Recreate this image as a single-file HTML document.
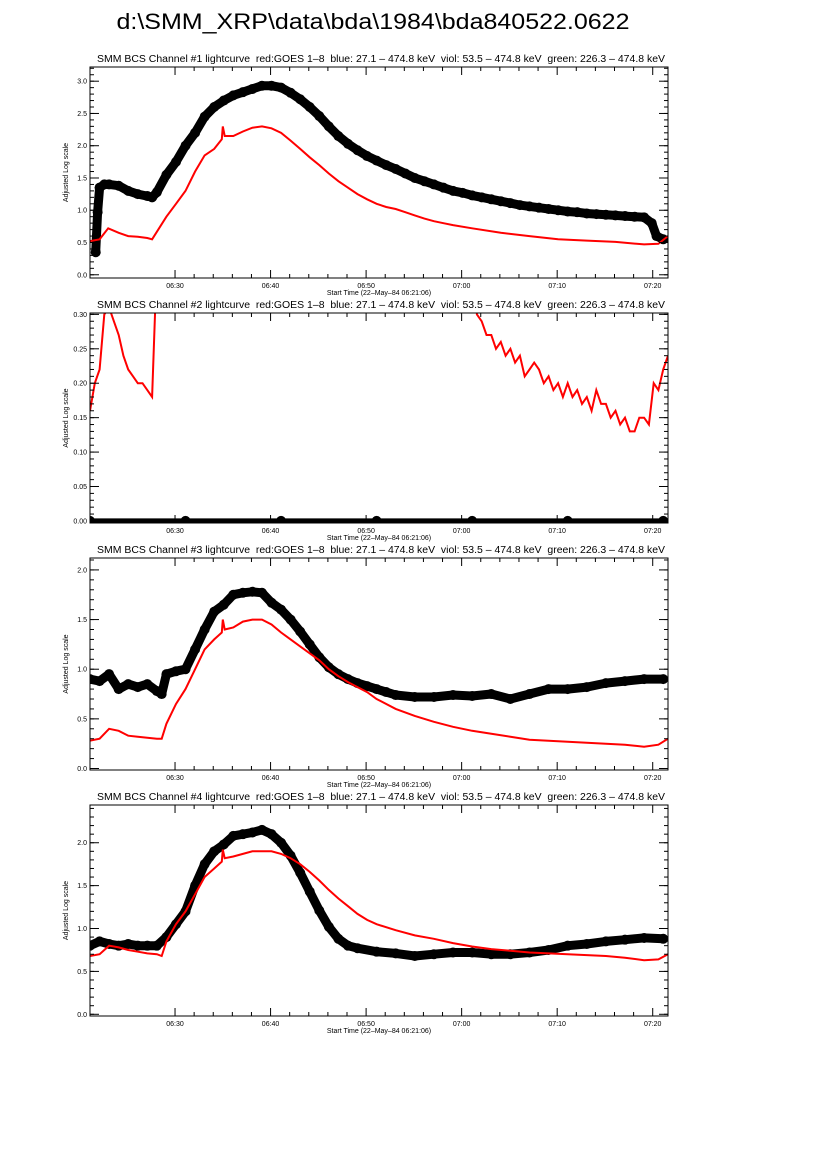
<!DOCTYPE html>
<html><head><meta charset="utf-8"><style>
body{margin:0;background:#fff;width:826px;height:1169px;overflow:hidden}
svg text{font-family:"Liberation Sans",sans-serif}
</style></head><body>
<svg id="chart" width="826" height="1169" xmlns="http://www.w3.org/2000/svg">
<text x="373" y="29" font-size="22" text-anchor="middle" textLength="513" lengthAdjust="spacingAndGlyphs">d:\SMM_XRP\data\bda\1984\bda840522.0622</text>
</svg>
<script>
const tRed1=[0,1,1.9,3,4,5,6,6.5,8,9,10,11,12,13,13.8,13.9,14.1,15,16,17,18,19,20,21,22,23,24,25,26,27,28,29,30,31,32,33,34,35,36,37,38,40,43,46,49,52,55,58,59.5,60.5];
const vRed1=[0.52,0.55,0.72,0.65,0.6,0.59,0.57,0.55,0.9,1.1,1.3,1.6,1.85,1.95,2.1,2.3,2.15,2.15,2.22,2.28,2.3,2.27,2.2,2.08,1.95,1.82,1.7,1.57,1.45,1.35,1.25,1.17,1.1,1.05,1.02,0.97,0.92,0.87,0.83,0.8,0.77,0.72,0.65,0.6,0.55,0.53,0.51,0.47,0.48,0.6];
const tBlk1=[0.6,0.8,1,1.5,2,3,4,5,6,6.5,7,8,9,10,11,12,13,14,15,16,17,18,19,20,21,22,23,24,25,26,27,28,29,30,31,32,33,34,35,36,37,38,39,40,41,42,43,44,45,46,47,48,49,50,51,52,53,54,55,56,57,58,58.8,59.3,60];
const vBlk1=[0.35,0.97,1.35,1.4,1.4,1.38,1.3,1.25,1.22,1.2,1.28,1.55,1.75,2.0,2.2,2.45,2.6,2.7,2.78,2.83,2.88,2.93,2.93,2.9,2.82,2.72,2.6,2.46,2.3,2.15,2.03,1.93,1.84,1.77,1.7,1.64,1.57,1.5,1.45,1.4,1.35,1.3,1.27,1.23,1.2,1.17,1.14,1.11,1.08,1.06,1.04,1.02,1.0,0.98,0.97,0.95,0.94,0.93,0.92,0.91,0.9,0.89,0.8,0.6,0.55];
const tRed2=[0,0.5,1,1.5,2,2.5,3,3.5,4,4.5,5,5.5,6,6.5,6.8,7,40,40.5,41,41.5,42,42.5,43,43.5,44,44.5,45,45.5,46,46.5,47,47.5,48,48.5,49,49.5,50,50.5,51,51.5,52,52.5,53,53.5,54,54.5,55,55.5,56,56.5,57,57.5,58,58.5,59,59.5,60,60.5];
const vRed2=[0.16,0.2,0.22,0.3,0.31,0.29,0.27,0.24,0.22,0.21,0.2,0.2,0.19,0.18,0.3,0.5,0.5,0.3,0.29,0.27,0.27,0.25,0.26,0.24,0.25,0.23,0.24,0.21,0.22,0.23,0.22,0.2,0.21,0.19,0.2,0.18,0.2,0.18,0.19,0.17,0.18,0.16,0.19,0.17,0.17,0.15,0.16,0.14,0.15,0.13,0.13,0.15,0.15,0.14,0.2,0.19,0.22,0.24];
const tBlk2=[0,10,20,30,40,50,60];
const vBlk2=[0,0,0,0,0,0,0];
const tRed3=[0,1,2,3,4,5,6,7,7.5,8,9,10,11,12,13,13.8,13.9,14.1,15,16,17,18,19,20,21,22,23,24,25,26,27,28,29,30,32,34,36,38,40,42,44,46,48,50,52,54,56,58,59.5,60.5];
const vRed3=[0.28,0.3,0.4,0.38,0.33,0.32,0.31,0.3,0.3,0.45,0.65,0.8,1.0,1.2,1.3,1.37,1.5,1.4,1.42,1.48,1.5,1.5,1.45,1.37,1.3,1.23,1.16,1.09,1.0,0.93,0.87,0.82,0.77,0.7,0.6,0.53,0.47,0.42,0.38,0.35,0.32,0.29,0.28,0.27,0.26,0.25,0.24,0.22,0.24,0.3];
const tBlk3=[0,1,2,3,4,5,6,7,7.5,8,9,10,11,12,13,14,15,16,17,18,19,20,21,22,23,24,25,26,27,28,29,30,31,32,34,36,38,40,42,44,46,48,50,52,54,56,58,60];
const vBlk3=[0.9,0.88,0.95,0.8,0.85,0.82,0.85,0.78,0.75,0.95,0.98,1.0,1.2,1.4,1.58,1.65,1.75,1.77,1.78,1.77,1.67,1.6,1.5,1.38,1.25,1.12,1.02,0.95,0.9,0.86,0.83,0.8,0.77,0.74,0.72,0.72,0.74,0.73,0.75,0.7,0.75,0.8,0.8,0.82,0.86,0.88,0.9,0.9];
const tRed4=[0,1,2,3,4,5,6,7,7.5,8,9,10,11,12,13,13.8,13.9,14.1,15,16,17,18,19,20,21,22,23,24,25,26,27,28,29,30,32,34,36,38,40,42,44,46,48,50,52,54,56,58,59.5,60.5];
const vRed4=[0.68,0.7,0.8,0.78,0.75,0.73,0.71,0.7,0.68,0.85,1.05,1.2,1.4,1.6,1.7,1.78,1.92,1.82,1.84,1.87,1.9,1.9,1.9,1.87,1.82,1.75,1.66,1.56,1.45,1.35,1.26,1.17,1.1,1.05,0.98,0.92,0.88,0.83,0.79,0.76,0.74,0.72,0.71,0.7,0.69,0.68,0.66,0.63,0.64,0.7];
const tBlk4=[0,1,2,3,4,5,6,7,8,9,10,11,12,13,14,15,16,17,18,19,20,21,22,23,24,25,26,27,28,30,32,34,36,38,40,42,44,46,48,50,52,54,56,58,60];
const vBlk4=[0.8,0.85,0.82,0.8,0.82,0.8,0.8,0.8,0.9,1.05,1.2,1.5,1.75,1.9,1.98,2.08,2.1,2.12,2.15,2.1,2.0,1.85,1.65,1.43,1.21,1.02,0.88,0.8,0.77,0.73,0.71,0.68,0.7,0.72,0.72,0.7,0.7,0.72,0.75,0.8,0.82,0.85,0.87,0.89,0.88];
const xTickLabels=["06:30","06:40","06:50","07:00","07:10","07:20"];
const yTicks1=[0,0.5,1,1.5,2,2.5,3], yLabels1=["0.0","0.5","1.0","1.5","2.0","2.5","3.0"];
const yTicks2=[0,0.05,0.1,0.15,0.2,0.25,0.3], yLabels2=["0.00","0.05","0.10","0.15","0.20","0.25","0.30"];
const yTicks3=[0,0.5,1,1.5,2], yLabels3=["0.0","0.5","1.0","1.5","2.0"];
const yTicks4=[0,0.5,1,1.5,2], yLabels4=["0.0","0.5","1.0","1.5","2.0"];

const NS="http://www.w3.org/2000/svg";
const svg=document.getElementById('chart');
const X0=90,X1=668,TMAX=60.5;
function xs(t){return X0+(X1-X0)*t/TMAX;}
function mk(tag,attrs,parent){const e=document.createElementNS(NS,tag);for(const k in attrs)e.setAttribute(k,attrs[k]);(parent||svg).appendChild(e);return e;}

const panels=[
 {n:1,top:67,bot:278,ymin:-0.05,ymax:3.22,yt:yTicks1,yl:yLabels1,minor:0.1,tr:tRed1,vr:vRed1,tb:tBlk1,vb:vBlk1},
 {n:2,top:313,bot:523,ymin:-0.003,ymax:0.302,yt:yTicks2,yl:yLabels2,minor:0.01,tr:tRed2,vr:vRed2,tb:tBlk2,vb:vBlk2},
 {n:3,top:558,bot:770,ymin:-0.015,ymax:2.12,yt:yTicks3,yl:yLabels3,minor:0.1,tr:tRed3,vr:vRed3,tb:tBlk3,vb:vBlk3},
 {n:4,top:805,bot:1016,ymin:-0.02,ymax:2.44,yt:yTicks4,yl:yLabels4,minor:0.1,tr:tRed4,vr:vRed4,tb:tBlk4,vb:vBlk4}
];
panels.forEach(p=>{
 const g=mk('g',{});
 
 
 const ys=v=>p.bot-(p.bot-p.top)*(v-p.ymin)/(p.ymax-p.ymin);
 const cid='clip'+p.n;
 const cp=mk('clipPath',{id:cid},g);mk('rect',{x:X0,y:p.top,width:X1-X0,height:p.bot-p.top},cp);
 const tt=mk('text',{x:381,y:p.top-5,'font-size':10,'text-anchor':'middle',textLength:568,lengthAdjust:'spacingAndGlyphs'},g);
 tt.textContent='SMM BCS Channel #'+p.n+' lightcurve\u00a0\u00a0red:GOES 1\u20138\u00a0\u00a0blue: 27.1 \u2013 474.8 keV\u00a0\u00a0viol: 53.5 \u2013 474.8 keV\u00a0\u00a0green: 226.3 \u2013 474.8 keV';
 
 
 const gb=mk('g',{'clip-path':'url(#'+cid+')'},g);
 
 
 let d='';p.tb.forEach((t,i)=>{d+=(i?'L':'M')+xs(t).toFixed(1)+' '+ys(p.vb[i]).toFixed(1);});
 mk('path',{d:d,fill:'none',stroke:'#000','stroke-width':p.n==2?5:9,'stroke-linejoin':'round','stroke-linecap':'round'},gb);
 p.tb.forEach((t,i)=>{const c=mk('circle',{cx:xs(t),cy:ys(p.vb[i]),r:5,fill:'#000'},gb);
  
  });
 let dr='';p.tr.forEach((t,i)=>{dr+=(i?'L':'M')+xs(t).toFixed(1)+' '+ys(p.vr[i]).toFixed(1);});
 const pr=mk('path',{d:dr,fill:'none',stroke:'#f00','stroke-width':2,'clip-path':'url(#'+cid+')'},g);
 
 
 mk('rect',{x:X0,y:p.top,width:X1-X0,height:p.bot-p.top,fill:'none',stroke:'#000','stroke-width':1},g);
 for(let m=0;m<=60;m+=2){const t=m+8.9;if(t>TMAX)break;const x=xs(t);const L=(m%10==0)?8:4;
  mk('line',{x1:x,x2:x,y1:p.bot,y2:p.bot-L,stroke:'#000'},g);mk('line',{x1:x,x2:x,y1:p.top,y2:p.top+L,stroke:'#000'},g);}
 xTickLabels.forEach((s,i)=>{const e=mk('text',{x:xs(8.9+10*i),y:p.bot+10,'font-size':7,'text-anchor':'middle'},g);e.textContent=s;
  
  });
 const xt=mk('text',{x:379,y:p.bot+17,'font-size':7,'text-anchor':'middle'},g);xt.textContent='Start Time (22\u2013May\u201384 06:21:06)';
 
 
 for(let v=0;v<=p.ymax+1e-9;v+=p.minor){const y=ys(v);mk('line',{x1:X0,x2:X0+4,y1:y,y2:y,stroke:'#000'},g);mk('line',{x1:X1,x2:X1-4,y1:y,y2:y,stroke:'#000'},g);}
 p.yt.forEach((v,i)=>{const y=ys(v);mk('line',{x1:X0,x2:X0+9,y1:y,y2:y,stroke:'#000'},g);mk('line',{x1:X1,x2:X1-9,y1:y,y2:y,stroke:'#000'},g);
  const e=mk('text',{x:X0-3,y:y+2.5,'font-size':7,'text-anchor':'end'},g);e.textContent=p.yl[i];
  
  });
 const yc=(p.top+p.bot)/2;
 const yt=mk('text',{x:68,y:yc,'font-size':7,'text-anchor':'middle',transform:'rotate(-90 68 '+yc+')'},g);yt.textContent='Adjusted Log scale';
 
 
});
</script>
</body></html>
